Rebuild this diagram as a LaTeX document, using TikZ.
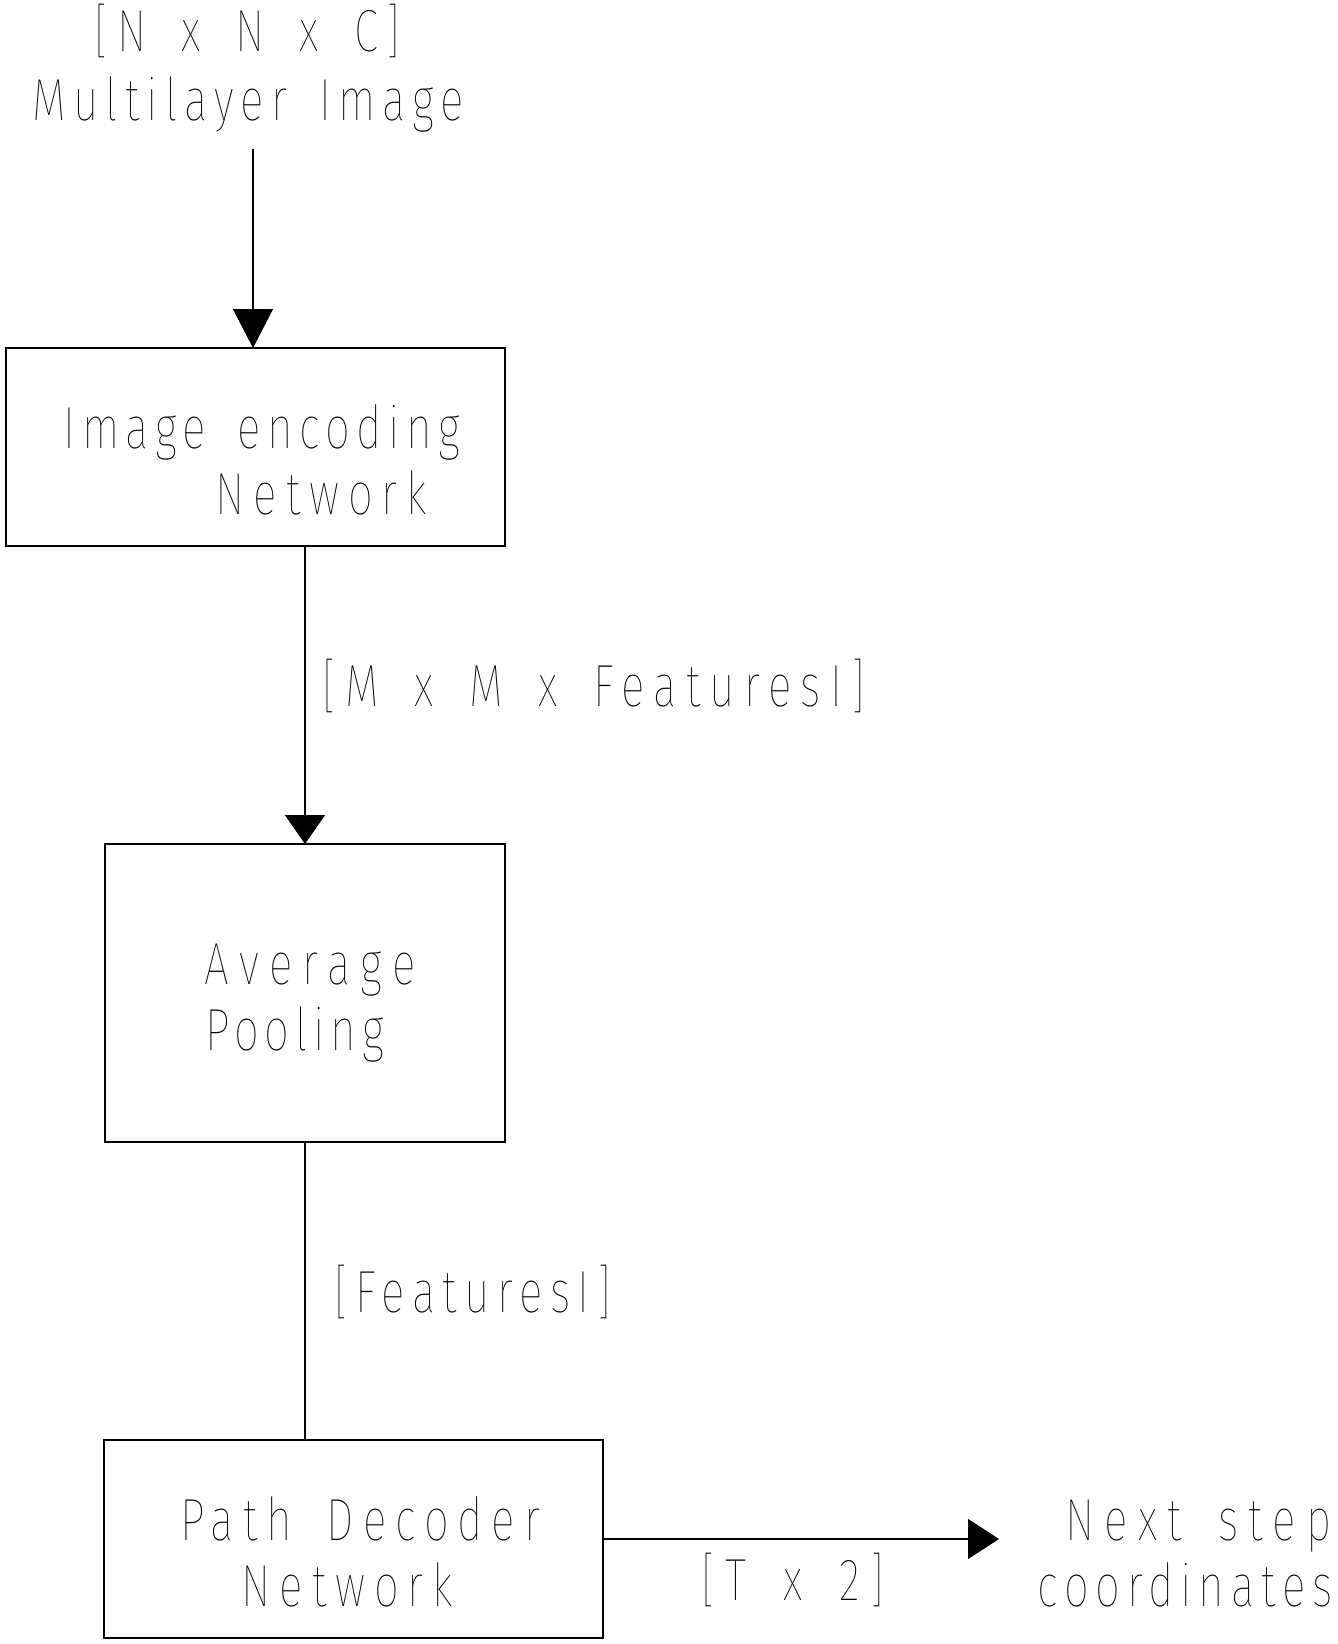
\documentclass[tikz,border=0pt]{standalone}
\usepackage{fontspec}
\usetikzlibrary{arrows.meta}
\IfFontExistsTF{Fira Sans Thin}
 {\newfontfamily\cadfam{Fira Sans Thin}[FakeStretch=0.74,LetterSpace=15,WordSpace=1.6]%
  \newcommand\cadsize{\fontsize{29.75pt}{36pt}\selectfont}}
 {\IfFontExistsTF{Fira Sans Light}
   {\newfontfamily\cadfam{Fira Sans Light}[FakeStretch=0.74,LetterSpace=15,WordSpace=1.6]%
    \newcommand\cadsize{\fontsize{29.75pt}{36pt}\selectfont}}
   {\newfontfamily\cadfam{DejaVu Sans}[FakeStretch=0.6,LetterSpace=12,WordSpace=1.6]%
    \newcommand\cadsize{\fontsize{28.1pt}{34pt}\selectfont}}}
\begin{document}
\begin{tikzpicture}[x=0.5pt,y=-0.5pt,
  lbl/.style={inner sep=0pt, outer sep=0pt, anchor=base,
    font=\cadfam\cadsize\addfontfeatures{LetterSpace=#1}},
  lbl/.default=15,
  box/.style={draw, line width=0.7pt, inner sep=0pt, outer sep=0pt, anchor=center},
  conn/.style={line width=0.6pt},
  arrA/.style={-{Triangle[length=19.5pt,width=20pt]}},
  arrB/.style={-{Triangle[length=14.5pt,width=20pt]}},
  arrC/.style={-{Triangle[length=15.5pt,width=20pt]}}]
\fill[white] (0,0) rectangle (1338,1644);
\useasboundingbox (0,0) rectangle (1338,1644);
% boxes
\node[box, minimum width=249.5pt, minimum height=99pt] (box1) at (255.5,447) {};
\node[box, minimum width=200pt, minimum height=149pt] (box2) at (305,993) {};
\node[box, minimum width=249.5pt, minimum height=99pt] (box3) at (353.5,1539) {};
% texts
\node[lbl=15] (t1) at (247.5,51) {[N x N x C]};
\node[lbl=12] (t2) at (248.5,120) {Multilayer Image};
\node[lbl=11] (t3) at (262,448) {Image encoding};
\node[lbl=15] (t4) at (321.5,514) {Network};
\node[lbl=15.5] (t5) at (594,706) {[M x M x FeaturesI]};
\node[lbl=17.5] (t6) at (310,984) {Average};
\node[lbl=10] (t7) at (294.5,1050) {Pooling};
\node[lbl=12.5] (t8) at (472.5,1312) {[FeaturesI]};
\node[lbl=15] (t9) at (360,1540) {Path Decoder};
\node[lbl=15] (t10) at (347.5,1606) {Network};
\node[lbl=17] (t11) at (793,1600) {[T x 2]};
\node[lbl=17] (t12) at (1198.5,1540) {Next step};
\node[lbl=11.5] (t13) at (1185,1606) {coordinates};
% connectors
\coordinate (inTop) at (253,149);
\coordinate (outEnd) at (999,1539);
\draw[conn, arrA] (inTop) -- (inTop |- box1.north);
\draw[conn, arrB] (box2.north |- box1.south) -- (box2.north);
\draw[conn] (box2.south) -- (box2.south |- box3.north);
\draw[conn, arrC] (box3.east) -- (outEnd);
\end{tikzpicture}
\end{document}
